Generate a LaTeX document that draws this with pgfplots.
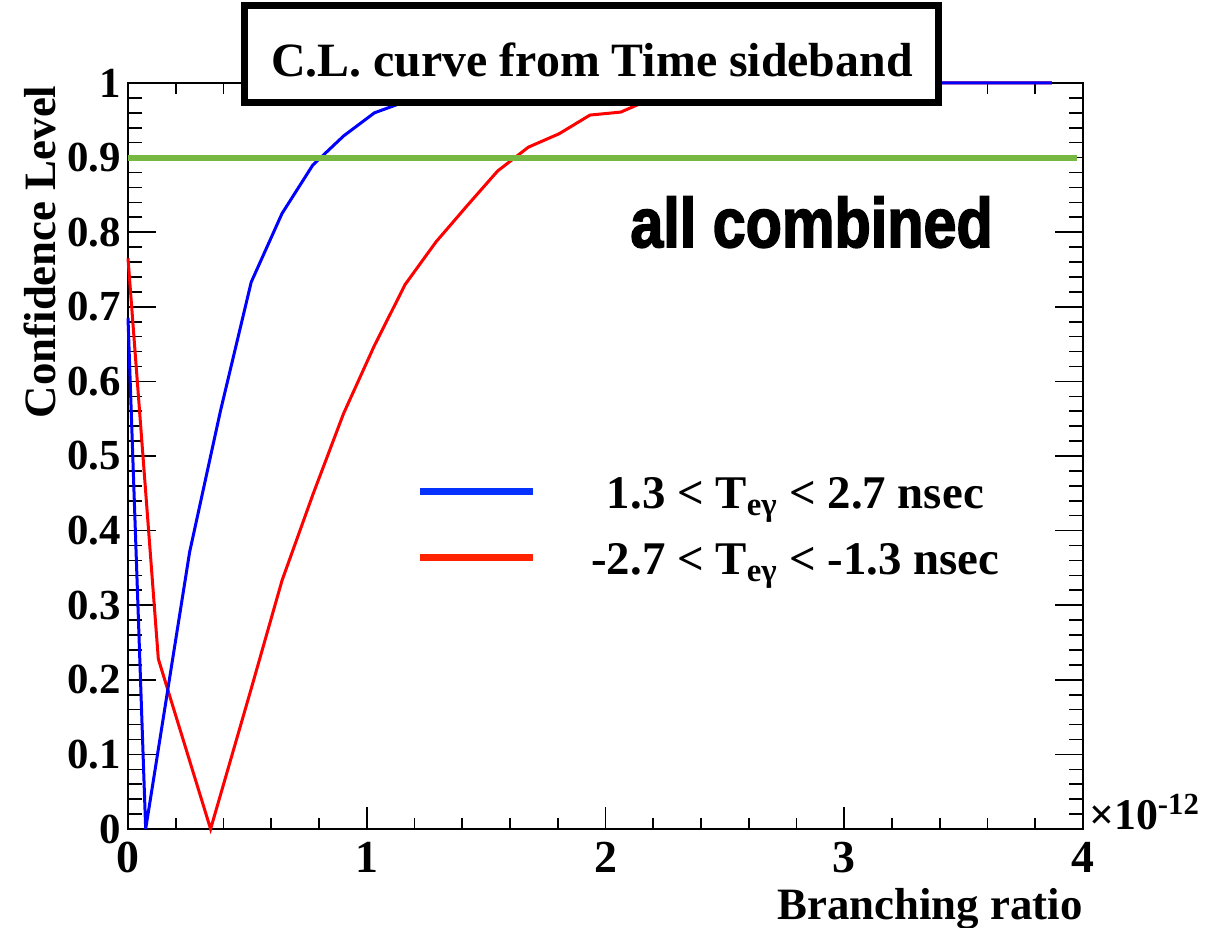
\documentclass[border=0pt]{standalone}
\usepackage{fontspec}
\setmainfont{Liberation Serif}
\newfontfamily\heavysans[BoldFeatures={FakeBold=2.5}]{Liberation Sans}
\usepackage{pgfplots}
\pgfplotsset{compat=1.18}
\definecolor{rootblue}{RGB}{0,0,255}
\definecolor{rootred}{RGB}{255,0,0}
\definecolor{legblue}{RGB}{5,50,255}
\definecolor{legred}{RGB}{255,35,0}
\definecolor{clgreen}{RGB}{118,184,66}
\begin{document}
\begin{tikzpicture}
\begin{axis}[
  name=ax,
  scale only axis,
  width=477.5bp, height=373bp,
  xmin=0, xmax=4, ymin=0, ymax=1,
  xtick={0,1,2,3,4}, minor x tick num=4,
  ytick={0,0.1,0.2,0.3,0.4,0.5,0.6,0.7,0.8,0.9,1},
  minor y tick num=4,
  tick align=inside,
  major tick length=14bp, minor tick length=7bp,
  xtick style={/pgfplots/major tick length=11bp, /pgfplots/minor tick length=5.5bp},
  axis line style={line width=1bp},
  every tick/.style={black, line width=0.8bp},
  ticklabel style={font=\fontsize{21.5}{24}\selectfont\bfseries},
  xticklabel style={font=\fontsize{23}{26}\selectfont\bfseries, yshift=-3bp},
  /pgf/number format/assume math mode=true,
  clip=false,
  xlabel={Branching ratio},
  xlabel style={at={(axis description cs:1,-0.121)}, anchor=base east, inner sep=0pt, font=\fontsize{22.5}{24}\selectfont\bfseries},
  ylabel={Confidence Level},
  ylabel style={at={(axis description cs:-0.092,0.997)}, rotate=0, anchor=east, inner sep=0pt, font=\fontsize{22.5}{24}\selectfont\bfseries},
  legend image code/.code={\draw[#1] (0bp,3.5bp) -- (56.5bp,3.5bp);},
  legend cell align=center,
  legend style={at={(axis cs:1.206,0.399)}, anchor=west, draw=none, fill=none, inner sep=0pt,
    column sep=27.5bp, row sep=11bp,
    nodes={inner sep=0pt, text height=16bp, text depth=6bp, font=\fontsize{23.5}{26}\selectfont\bfseries}},
  after end axis/.code={
    \draw[line width=3.5bp, fill=white] (rel axis cs:0.1225,0.9745) rectangle (rel axis cs:0.8487,1.1035);
    \node[font=\fontsize{24}{26}\selectfont\bfseries] at (rel axis cs:0.4859,1.0308) {C.L. curve from Time sideband};
    \node[anchor=base west, inner sep=0pt, xscale=0.85, font=\heavysans\bfseries\fontsize{35}{40}\selectfont] at (rel axis cs:0.5257,0.780) {all combined};
    \node[anchor=base west, inner sep=0pt, font=\fontsize{22}{24}\selectfont\bfseries] at (rel axis cs:1.006,0) {×10\textsuperscript{-12}};
  },
]
\addplot[rootred, line width=1.5bp, forget plot] coordinates {
(0,0.765) (0.127,0.228) (0.346,0) (0.516,0.188) (0.645,0.333) (0.774,0.448) (0.903,0.557)
(1.032,0.648) (1.161,0.730) (1.290,0.787) (1.419,0.835) (1.548,0.882) (1.677,0.914)
(1.806,0.932) (1.935,0.957) (2.064,0.961) (2.193,0.979) (2.322,0.990) (2.451,1)
(2.580,1) (2.709,1) (2.838,1) (2.967,1) (3.096,1) (3.225,1) (3.354,1) (3.483,1)
(3.612,1) (3.741,1) (3.870,1)};
\addplot[rootblue, line width=1.5bp, forget plot] coordinates {
(0,0.685) (0.074,0) (0.258,0.371) (0.387,0.560) (0.516,0.733) (0.645,0.825) (0.774,0.890)
(0.903,0.929) (1.032,0.960) (1.161,0.975) (1.290,0.990) (1.419,1) (1.548,1) (1.677,1)
(1.806,1) (1.935,1) (2.064,1) (2.193,1) (2.322,1) (2.451,1) (2.580,1) (2.709,1)
(2.838,1) (2.967,1) (3.096,1) (3.225,1) (3.354,1) (3.483,1) (3.612,1) (3.741,1) (3.870,1)};
\addplot[clgreen, line width=3bp, forget plot] coordinates {(0,0.9) (3.975,0.9)};
\addlegendimage{legblue, line width=3.5bp}
\addlegendentry{1.3 < T\textsubscript{eγ} < 2.7 nsec}
\addlegendimage{legred, line width=3.5bp}
\addlegendentry{-2.7 < T\textsubscript{eγ} < -1.3 nsec}
\end{axis}
\pgfresetboundingbox
\path[use as bounding box] ([shift={(-64bp,-49bp)}]ax.south west) rectangle ([shift={(71bp,41.5bp)}]ax.north east);
\end{tikzpicture}
\end{document}
